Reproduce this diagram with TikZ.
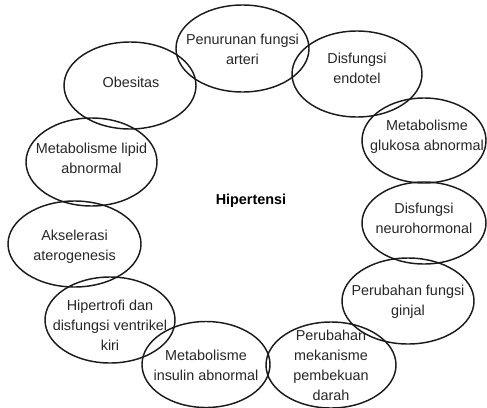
\documentclass[tikz,border=0pt]{standalone}
\usepackage{fontspec}
\setmainfont{Liberation Sans}
\usetikzlibrary{shapes.geometric}
\definecolor{ink}{HTML}{1A1A1A}
\definecolor{txt}{HTML}{262626}
\tikzset{
  factor/.style={ellipse, draw=ink, line width=1.45pt, inner sep=0pt,
    minimum width=#1},
  lbl/.style={align=center, inner sep=0pt, text=txt,
    font=\fontsize{14.4}{20}\selectfont},
  core/.style={inner sep=0pt, text=black,
    font=\fontsize{14.4}{20}\selectfont\bfseries}
}
\begin{document}
\begin{tikzpicture}[x=1pt, y=-1pt]
  \useasboundingbox (0,0) rectangle (487,407);

  % ring of contributing factors
  \node[factor=133pt, minimum height=87pt] (arteri)   at (242.5,48.5) {};
  \node[factor=130pt, minimum height=86pt] (endotel)  at (357,74) {};
  \node[factor=124pt, minimum height=85pt] (glukosa)  at (424,140.5) {};
  \node[factor=124pt, minimum height=82pt] (neuro)    at (424,223) {};
  \node[factor=132pt, minimum height=86pt] (ginjal)   at (408,301) {};
  \node[factor=130pt, minimum height=86pt] (bekuan)   at (331,365) {};
  \node[factor=128pt, minimum height=86pt] (insulin)  at (206,364.5) {};
  \node[factor=130pt, minimum height=86pt] (ventrikel) at (110,320) {};
  \node[factor=133pt, minimum height=86pt] (atero)    at (74.5,244) {};
  \node[factor=131pt, minimum height=88pt] (lipid)    at (91.5,162) {};
  \node[factor=132pt, minimum height=87pt] (obes)     at (130,85.5) {};

  % labels
  \node[lbl] (tarteri)  at (242.5,49) {Penurunan fungsi\\arteri};
  \node[lbl] (tendotel) at (357,68) {Disfungsi\\endotel};
  \node[lbl] (tglukosa) at (427,137) {Metabolisme\\glukosa abnormal};
  \node[lbl] (tneuro)   at (424,218) {Disfungsi\\neurohormonal};
  \node[lbl] (tginjal)  at (408,302) {Perubahan fungsi\\ginjal};
  \node[lbl] (tbekuan)  at (331,365) {Perubahan\\mekanisme\\pembekuan\\darah};
  \node[lbl] (tinsulin) at (206,365) {Metabolisme\\insulin abnormal};
  \node[lbl] (tventrikel) at (110,325) {Hipertrofi dan\\disfungsi ventrikel\\kiri};
  \node[lbl] (tatero)   at (74.5,247) {Akselerasi\\aterogenesis};
  \node[lbl] (tlipid)   at (91.5,158) {Metabolisme lipid\\abnormal};
  \node[lbl] (tobes)    at (131,82) {Obesitas};

  % centre
  \node[core] (hipertensi) at (251,201) {Hipertensi};
\end{tikzpicture}
\end{document}
